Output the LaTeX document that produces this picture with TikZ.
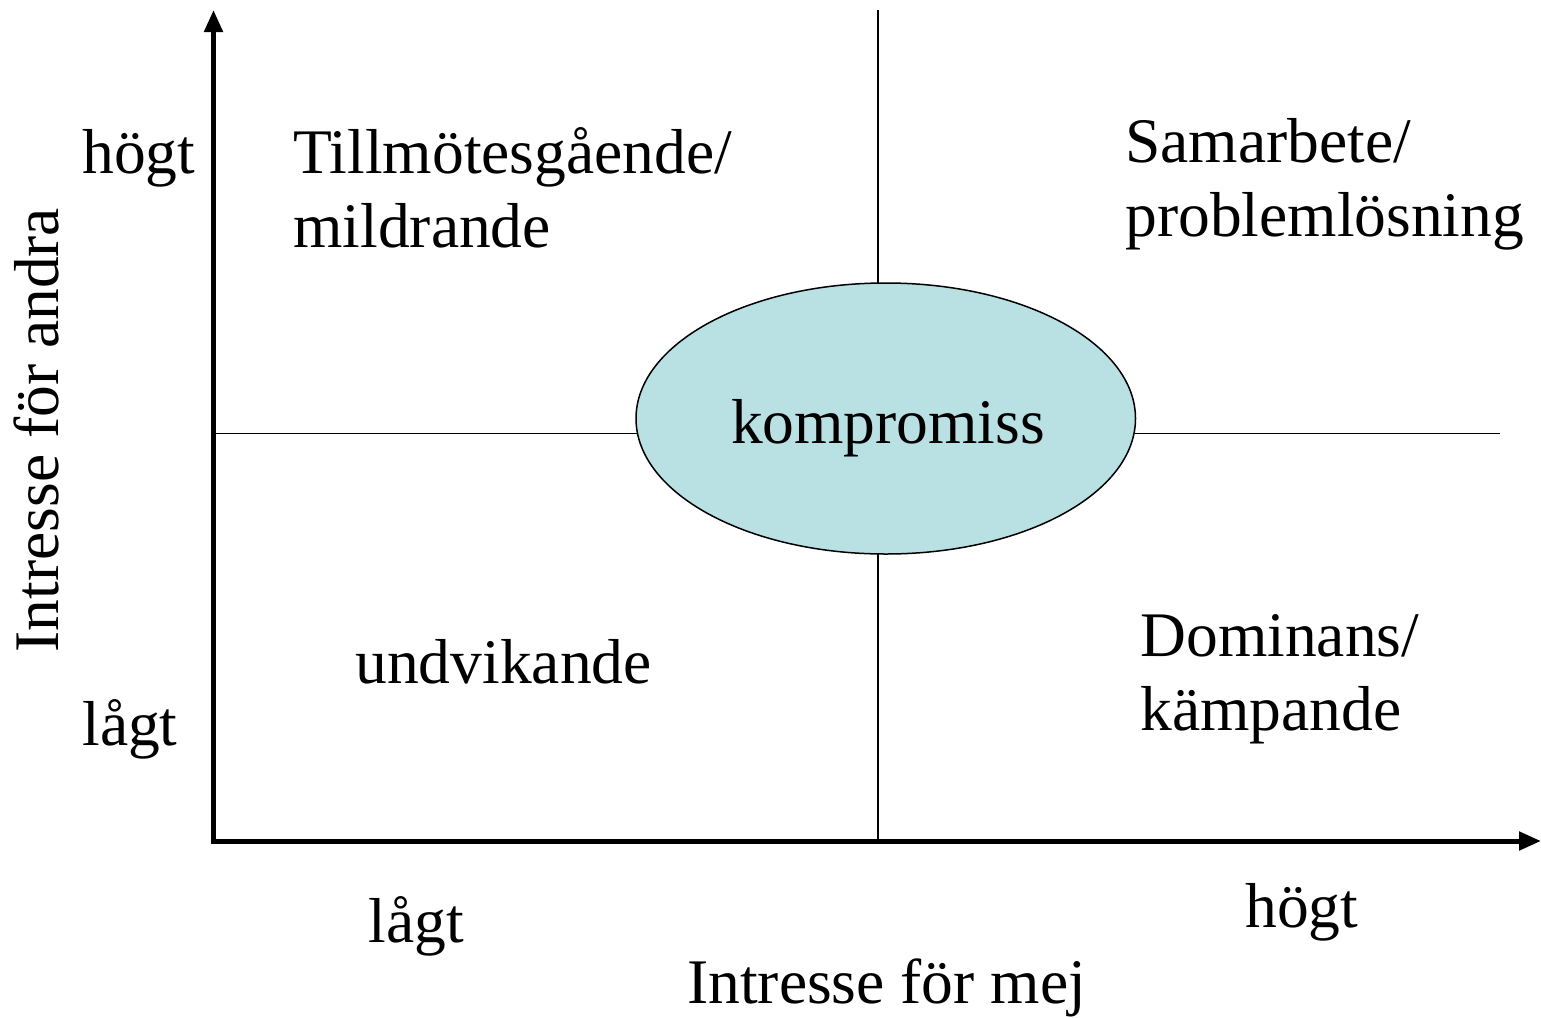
\documentclass[tikz,border=0pt]{standalone}
\usepackage{fontspec}
\setmainfont{Liberation Serif}
\usetikzlibrary{arrows.meta,shapes.geometric}
\definecolor{ellfill}{RGB}{185,224,227}
\begin{document}
\begin{tikzpicture}[x=0.5pt,y=-0.5pt,
  lbl/.style={font=\fontsize{31.75}{36.5}\selectfont, inner sep=0pt, align=left},
  axisline/.style={line width=2.5pt, -{Triangle[length=11pt,width=9pt]}},
  thin/.style={line width=0.75pt}]
\useasboundingbox (0,0) rectangle (1541,1017);
% ellipse
\node[ellipse, draw, thin, fill=ellfill, minimum width=249.75pt, minimum height=135.5pt, inner sep=0pt] (k) at (885.75,418.5) {};
\node[lbl, anchor=base] (kt) at (888,443) {kompromiss};
% coordinates for thin lines
\coordinate (vt) at (878,10);
\coordinate (vtb) at (878,283.2);
\coordinate (vbt) at (878,553.8);
\coordinate (vb) at (878,840);
\coordinate (hl) at (215,433.3);
\coordinate (hle) at (637,433.3);
\coordinate (hre) at (1134.5,433.3);
\coordinate (hr) at (1500,433.3);
\draw[thin] (vt) -- (vtb);
\draw[thin] (vbt) -- (vb);
\draw[thin] (hl) -- (hle);
\draw[thin] (hre) -- (hr);
% axes
\coordinate (o) at (213.5,841);
\coordinate (ytip) at (213.5,10);
\coordinate (xtip) at (1541,841);
\draw[axisline] ([yshift=-1.25pt]o) -- (ytip);
\draw[axisline] ([xshift=-1.25pt]o) -- (xtip);
% labels
\node[lbl, anchor=base west] (hy) at (82,173) {högt};
\node[lbl, anchor=base west] (ly) at (82,745) {lågt};
\node[lbl, anchor=base west] (lx) at (368,942) {lågt};
\node[lbl, anchor=base west] (hx) at (1245,927) {högt};
\node[lbl, anchor=base west] (xl) at (687,1003) {Intresse för mej};
\node[lbl, anchor=base, rotate=90] (yl) at (58,430) {Intresse för andra};
\node[lbl, anchor=base west] (q1a) at (293,173) {Tillmötesgående/};
\node[lbl, anchor=base west] (q1b) at (293,247) {mildrande};
\node[lbl, anchor=base west] (q2a) at (1125,162) {Samarbete/};
\node[lbl, anchor=base west] (q2b) at (1125,236) {problemlösning};
\node[lbl, anchor=base west] (q3) at (355,683) {undvikande};
\node[lbl, anchor=base west] (q4a) at (1140,656) {Dominans/};
\node[lbl, anchor=base west] (q4b) at (1140,730) {kämpande};
\end{tikzpicture}
\end{document}
